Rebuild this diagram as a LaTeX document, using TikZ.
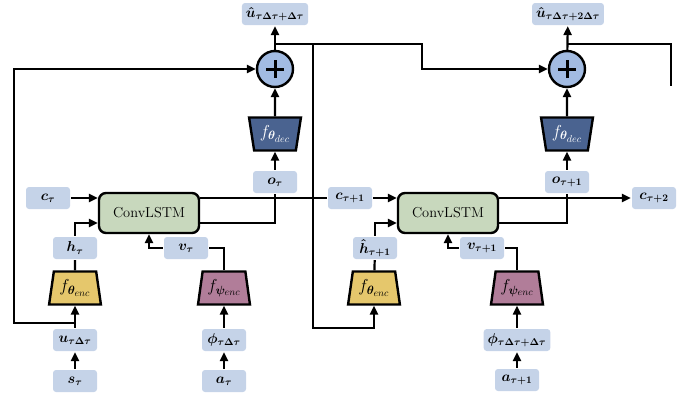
\RequirePackage{fix-cm}
\documentclass[tikz,border=0pt]{standalone}
\usepackage{bm}
\usetikzlibrary{arrows.meta,shapes.geometric}
\definecolor{lblblue}{RGB}{197,211,232}
\definecolor{addblue}{RGB}{162,187,226}
\definecolor{decblue}{RGB}{74,99,144}
\definecolor{encyellow}{RGB}{229,199,108}
\definecolor{actmauve}{RGB}{177,125,153}
\definecolor{lstmgreen}{RGB}{200,216,189}
\begin{document}
\begin{tikzpicture}[x=1pt,y=1pt,line width=2.2pt,>={Triangle[length=9pt,width=8pt]}]
            \tikzstyle{every node}+=[font=\Large]
            \tikzstyle{lbl}=[fill=lblblue,rounded corners=3pt,minimum width=44pt,minimum height=22pt,inner xsep=4pt,inner ysep=0pt]
            \tikzstyle{lstm}=[draw,line width=2.4pt,fill=lstmgreen,rounded corners=7pt,minimum width=100pt,minimum height=40pt]
            \tikzstyle{trap}=[draw,line width=2.4pt,trapezium,trapezium left angle=78,trapezium right angle=78,trapezium stretches=true,minimum width=52pt,minimum height=33pt,inner sep=0pt,font=\LARGE]
            \tikzstyle{enc}=[trap,fill=encyellow]
            \tikzstyle{act}=[trap,fill=actmauve]
            \tikzstyle{dec}=[trap,fill=decblue,text=white,shape border rotate=180]
            \tikzstyle{adder}=[circle,draw,line width=2.4pt,fill=addblue,minimum size=36pt,inner sep=0pt,
              path picture={\draw[line width=3pt] ([xshift=-9pt]path picture bounding box.center) -- ([xshift=9pt]path picture bounding box.center)
                ([yshift=-9pt]path picture bounding box.center) -- ([yshift=9pt]path picture bounding box.center);}]
            \useasboundingbox (0,0) rectangle (694,-399);
            % first step
            \node [lbl] (uhat1) at (275,-14) {$\bm{\hat{u}_{\tau\Delta\tau+\Delta\tau}}$};
            \node [adder] (add1) at (275,-69) {};
            \node [dec] (dec1) at (275,-134) {$f_{\bm{\theta}_{dec}}$};
            \node [lbl] (o1) at (275,-182) {$\bm{o_{\tau}}$};
            \node [lbl] (c1) at (48,-198) {$\bm{c_{\tau}}$};
            \node [lstm] (lstm1) at (149,-213) {ConvLSTM};
            \node [lbl] (h1) at (75,-248) {$\bm{h_{\tau}}$};
            \node [enc] (enc1) at (75,-288) {$f_{\bm{\theta}_{enc}}$};
            \node [lbl] (v1) at (186,-248) {$\bm{v_{\tau}}$};
            \node [act] (act1) at (224,-288) {$f_{\bm{\psi}_{enc}}$};
            \node [lbl] (u1) at (75,-340) {$\bm{u_{\tau\Delta\tau}}$};
            \node [lbl] (s1) at (75,-381) {$\bm{s_{\tau}}$};
            \node [lbl] (phi1) at (224,-340) {$\bm{\phi_{\tau\Delta\tau}}$};
            \node [lbl] (a1) at (224,-381) {$\bm{a_{\tau}}$};
            % second step
            \node [lbl] (uhat2) at (568,-14) {$\bm{\hat{u}_{\tau\Delta\tau+2\Delta\tau}}$};
            \node [adder] (add2) at (567,-69) {};
            \node [dec] (dec2) at (567,-134) {$f_{\bm{\theta}_{dec}}$};
            \node [lbl] (o2) at (567,-182) {$\bm{o_{\tau+1}}$};
            \node [lbl] (c2) at (350,-198) {$\bm{c_{\tau+1}}$};
            \node [lstm] (lstm2) at (448,-213) {ConvLSTM};
            \node [lbl] (h2) at (375,-248) {$\bm{\hat{h}_{\tau+1}}$};
            \node [enc] (enc2) at (374,-288) {$f_{\bm{\theta}_{enc}}$};
            \node [lbl] (v2) at (482,-248) {$\bm{v_{\tau+1}}$};
            \node [act] (act2) at (517,-288) {$f_{\bm{\psi}_{enc}}$};
            \node [lbl] (phi2) at (517,-340) {$\bm{\phi_{\tau\Delta\tau+\Delta\tau}}$};
            \node [lbl] (a2) at (517,-380) {$\bm{a_{\tau+1}}$};
            \node [lbl] (c3) at (654,-198) {$\bm{c_{\tau+2}}$};
            \coordinate (j1) at (75,-323);
            \coordinate (loopL) at (14,-323);
            \coordinate (t1) at (275,-44);
            \coordinate (bend1) at (422,-44);
            \coordinate (t2) at (313,-44);
            \coordinate (low2) at (313,-328);
            \coordinate (t3) at (567,-44);
            \coordinate (bend3) at (671,-44);
            \coordinate (open3) at (671,-86);
            \draw [->] (s1) -- (u1);
            \draw [->] (u1) -- (enc1);
            \draw [->] (j1) -- (loopL) |- (add1);
            \draw (enc1) -- (h1);
            \draw [->] (h1) |- ([yshift=-10pt]lstm1.west);
            \draw [->] (c1) -- (c1 -| lstm1.west);
            \draw [->] (a1) -- (phi1);
            \draw [->] (phi1) -- (act1);
            \draw (act1) |- (v1);
            \draw [->] (v1) -| (lstm1);
            \draw (c1 -| lstm1.east) -- (c2);
            \draw ([yshift=-10pt]lstm1.east) -| (o1);
            \draw [->] (o1) -- (dec1);
            \draw [->] (dec1) -- (add1);
            \draw [->] (add1) -- (uhat1);
            \draw [->] (t1) -- (bend1) |- (add2);
            \draw [->] (t2) -- (low2) -| (enc2);
            \draw [->] (c2) -- (c2 -| lstm2.west);
            \draw (enc2) -- (h2);
            \draw [->] (h2) |- ([yshift=-10pt]lstm2.west);
            \draw [->] (a2) -- (phi2);
            \draw [->] (phi2) -- (act2);
            \draw (act2) |- (v2);
            \draw [->] (v2) -| (lstm2);
            \draw [->] (c3 -| lstm2.east) -- (c3);
            \draw ([yshift=-10pt]lstm2.east) -| (o2);
            \draw [->] (o2) -- (dec2);
            \draw [->] (dec2) -- (add2);
            \draw [->] (add2) -- (uhat2);
            \draw (t3) -- (bend3) -- (open3);
        \end{tikzpicture}
\end{document}
